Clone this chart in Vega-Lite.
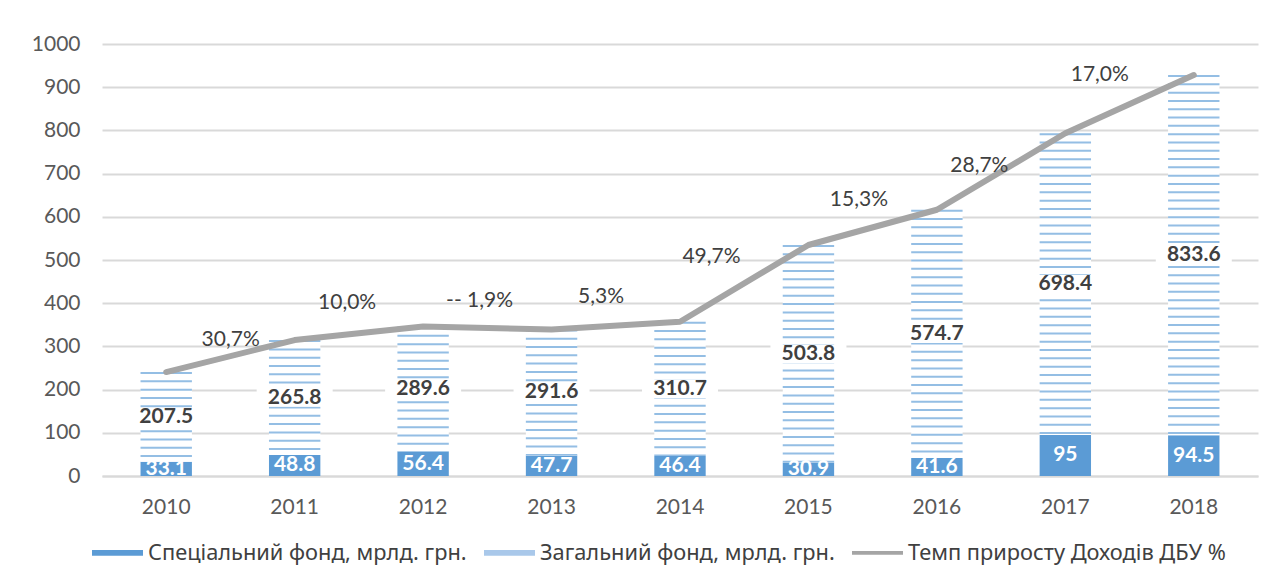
{
  "$schema": "https://vega.github.io/schema/vega-lite/v6.json",
  "autosize": "none",
  "width": 1156,
  "height": 432,
  "padding": {"left": 102, "top": 44, "right": 22, "bottom": 110},
  "background": "white",
  "config": {
    "view": {"stroke": null},
    "font": "Lato",
    "axis": {"labelFont": "Lato", "labelFontSize": 21, "labelColor": "#595959", "title": null, "ticks": false}
  },
  "datasets": {
    "main": [
      {"year": "2010", "special": 33.1, "general": 207.5, "total": 240.6, "growth": ""},
      {"year": "2011", "special": 48.8, "general": 265.8, "total": 314.6, "growth": "30,7%"},
      {"year": "2012", "special": 56.4, "general": 289.6, "total": 346.0, "growth": "10,0%"},
      {"year": "2013", "special": 47.7, "general": 291.6, "total": 339.3, "growth": "-- 1,9%"},
      {"year": "2014", "special": 46.4, "general": 310.7, "total": 357.1, "growth": "5,3%"},
      {"year": "2015", "special": 30.9, "general": 503.8, "total": 534.7, "growth": "49,7%"},
      {"year": "2016", "special": 41.6, "general": 574.7, "total": 616.3, "growth": "15,3%"},
      {"year": "2017", "special": 95, "general": 698.4, "total": 793.4, "growth": "28,7%"},
      {"year": "2018", "special": 94.5, "general": 833.6, "total": 928.1, "growth": "17,0%"}
    ],
    "series": [
      {"series": "Спеціальний фонд, мрлд. грн."},
      {"series": "Загальний фонд, мрлд. грн."},
      {"series": "Темп приросту Доходів ДБУ %"}
    ]
  },
  "data": {"name": "main"},
  "encoding": {
    "x": {
      "field": "year", "type": "ordinal",
      "scale": {"paddingInner": 0.6, "paddingOuter": 0.3},
      "axis": {"labelAngle": 0, "labelPadding": 20, "domainColor": "#d9d9d9", "domainWidth": 2, "grid": false}
    }
  },
  "layer": [
    {
      "mark": {"type": "bar", "color": "#5b9bd5"},
      "encoding": {
        "y": {"field": "special", "type": "quantitative", "scale": {"domain": [0, 1000], "nice": false},
          "axis": {"values": [0,100,200,300,400,500,600,700,800,900,1000], "format": "d", "domain": false, "gridColor": "#d9d9d9", "gridWidth": 2, "labelPadding": 22}},
        "y2": {"value": 432}
      }
    },
    {
      "mark": {"type": "bar", "color": "white"},
      "encoding": {
        "y": {"field": "special", "type": "quantitative"},
        "y2": {"field": "total"}
      }
    },
    {
      "mark": {"type": "rule", "color": "#5b9bd5", "strokeWidth": 51.4, "strokeDash": [2, 6.3], "strokeCap": "butt", "opacity": 0.65},
      "encoding": {
        "y": {"field": "total", "type": "quantitative"},
        "y2": {"field": "special"}
      }
    },
    {
      "transform": [{"calculate": "(datum.special + datum.total) / 2", "as": "mid"}],
      "mark": {"type": "point", "shape": "M-1,-0.24H1V0.24H-1Z", "filled": true, "color": "white", "opacity": 1, "size": 5776},
      "encoding": {"y": {"field": "mid", "type": "quantitative"}}
    },
    {
      "mark": {"type": "line", "color": "#a5a5a5", "strokeWidth": 6, "strokeCap": "round", "strokeJoin": "round"},
      "encoding": {"y": {"field": "total", "type": "quantitative"}}
    },
    {
      "transform": [{"calculate": "(datum.special + datum.total) / 2", "as": "mid"}],
      "mark": {"type": "text", "font": "Lato", "fontSize": 21, "fontWeight": "bold", "color": "#404040", "baseline": "middle"},
      "encoding": {"y": {"field": "mid", "type": "quantitative"}, "text": {"field": "general", "type": "nominal"}}
    },
    {
      "transform": [{"calculate": "datum.special / 2", "as": "smid"}],
      "mark": {"type": "text", "font": "Lato", "fontSize": 21, "fontWeight": "bold", "color": "white", "baseline": "middle"},
      "encoding": {"y": {"field": "smid", "type": "quantitative"}, "text": {"field": "special", "type": "nominal"}}
    },
    {
      "transform": [{"filter": "datum.year == '2011'"}],
      "mark": {"type": "text", "fontSize": 21, "color": "#404040", "baseline": "middle", "dx": -64, "dy": 0},
      "encoding": {"y": {"field": "total", "type": "quantitative"}, "text": {"field": "growth"}}
    },
    {
      "transform": [{"filter": "datum.year == '2012'"}],
      "mark": {"type": "text", "fontSize": 21, "color": "#404040", "baseline": "middle", "dx": -76, "dy": -24},
      "encoding": {"y": {"field": "total", "type": "quantitative"}, "text": {"field": "growth"}}
    },
    {
      "transform": [{"filter": "datum.year == '2013'"}],
      "mark": {"type": "text", "fontSize": 21, "color": "#404040", "baseline": "middle", "dx": -72, "dy": -28},
      "encoding": {"y": {"field": "total", "type": "quantitative"}, "text": {"field": "growth"}}
    },
    {
      "transform": [{"filter": "datum.year == '2014'"}],
      "mark": {"type": "text", "fontSize": 21, "color": "#404040", "baseline": "middle", "dx": -79, "dy": -25},
      "encoding": {"y": {"field": "total", "type": "quantitative"}, "text": {"field": "growth"}}
    },
    {
      "transform": [{"filter": "datum.year == '2015'"}],
      "mark": {"type": "text", "fontSize": 21, "color": "#404040", "baseline": "middle", "dx": -97, "dy": 12},
      "encoding": {"y": {"field": "total", "type": "quantitative"}, "text": {"field": "growth"}}
    },
    {
      "transform": [{"filter": "datum.year == '2016'"}],
      "mark": {"type": "text", "fontSize": 21, "color": "#404040", "baseline": "middle", "dx": -78, "dy": -10},
      "encoding": {"y": {"field": "total", "type": "quantitative"}, "text": {"field": "growth"}}
    },
    {
      "transform": [{"filter": "datum.year == '2017'"}],
      "mark": {"type": "text", "fontSize": 21, "color": "#404040", "baseline": "middle", "dx": -86, "dy": 33},
      "encoding": {"y": {"field": "total", "type": "quantitative"}, "text": {"field": "growth"}}
    },
    {
      "transform": [{"filter": "datum.year == '2018'"}],
      "mark": {"type": "text", "fontSize": 21, "color": "#404040", "baseline": "middle", "dx": -94, "dy": 0},
      "encoding": {"y": {"field": "total", "type": "quantitative"}, "text": {"field": "growth"}}
    },
    {
      "data": {"name": "series"},
      "mark": {"type": "point", "filled": true, "opacity": 0},
      "encoding": {
        "x": {"value": 0},
        "y": {"value": 0},
        "color": {
          "field": "series", "type": "nominal",
          "scale": {"domain": ["Спеціальний фонд, мрлд. грн.", "Загальний фонд, мрлд. грн.", "Темп приросту Доходів ДБУ %"], "range": ["#5b9bd5", "#a9c8ea", "#a5a5a5"]},
          "legend": {
            "title": null,
            "orient": "none",
            "direction": "horizontal",
            "legendX": -10,
            "legendY": 483,
            "symbolType": "M-1,-0.11H1V0.11H-1Z",
            "symbolSize": 2601,
            "symbolOpacity": 1,
            "symbolStrokeWidth": 0,
            "labelFont": "Noto Sans",
            "labelFontSize": 21.8,
            "labelColor": "#404040",
            "labelOffset": 5,
            "columnPadding": 17,
            "labelLimit": 500,
            "encode": {
              "symbols": {"update": {"shape": {"signal": "datum.value === 'Темп приросту Доходів ДБУ %' ? 'M-1,-0.07H1V0.07H-1Z' : 'M-1,-0.11H1V0.11H-1Z'"}}}
            }
          }
        }
      }
    }
  ]
}
